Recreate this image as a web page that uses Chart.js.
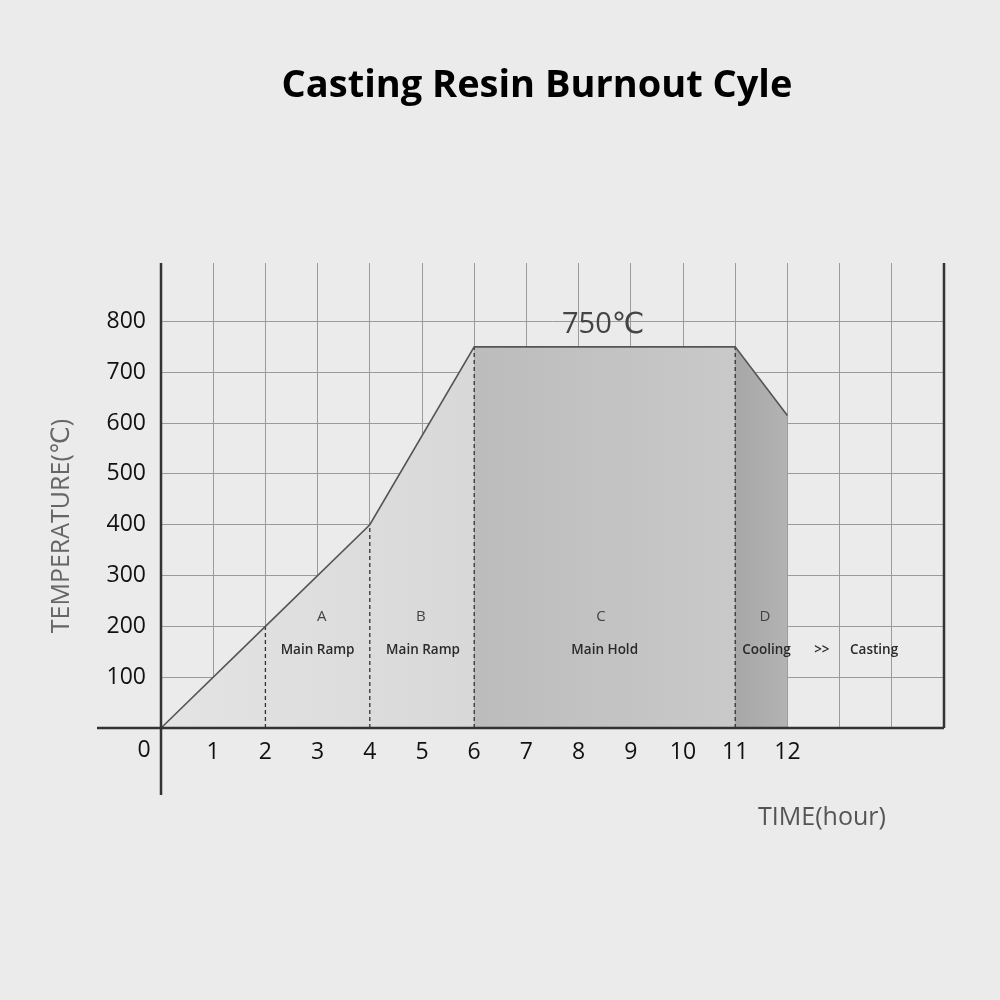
<!DOCTYPE html>
<html>
<head>
<meta charset="utf-8">
<script src="https://cdn.jsdelivr.net/npm/chart.js@4.4.1/dist/chart.umd.min.js"></script>
<style>
  html, body { margin: 0; padding: 0; background: #ebebeb; }
  #wrap { width: 1000px; height: 1000px; }
</style>
</head>
<body>
<div id="wrap"><canvas id="burnout"></canvas></div>
<script>
// burnout cycle data
const times = [0, 2, 4, 6, 11, 12];
const temps = [0, 200, 400, 750, 750, 615];
const yTicks = [100, 200, 300, 400, 500, 600, 700, 800];
const xTicks = [0, 1, 2, 3, 4, 5, 6, 7, 8, 9, 10, 11, 12, 13, 14, 15];
const xLabels = ["1", "2", "3", "4", "5", "6", "7", "8", "9", "10", "11", "12"];
const dashTimes = [2, 4, 6, 11];
const stageLetters = [["A", 3.08], ["B", 4.98], ["C", 8.43], ["D", 11.57]];
const stageNames = [["Main Ramp", 3.0], ["Main Ramp", 5.02], ["Main Hold", 8.5], ["Cooling", 11.6], [">>", 12.66], ["Casting", 13.66]];

const FONT = "'Open Sans', 'DejaVu Sans', sans-serif";
const pts = times.map((t, i) => ({ x: t, y: temps[i] }));

function tempAt(t) {
  return temps[times.indexOf(t)];
}

// gradient fill between two x values
function bandFill(from, to, c0, c1) {
  return (context) => {
    const chart = context.chart;
    if (!chart.chartArea) return c0;
    const xs = chart.scales.x;
    const g = chart.ctx.createLinearGradient(xs.getPixelForValue(from), 0, xs.getPixelForValue(to), 0);
    g.addColorStop(0, c0);
    g.addColorStop(1, c1);
    return g;
  };
}

function region(a, b, c0, c1) {
  return {
    data: pts.slice(times.indexOf(a), times.indexOf(b) + 1),
    borderWidth: 0,
    pointRadius: 0,
    fill: "origin",
    backgroundColor: bandFill(a, b, c0, c1),
    order: 3
  };
}

const datasets = [
  region(0, 6, "#e4e4e4", "#d8d8d8"),
  region(6, 11, "#bcbcbc", "#c9c9c9"),
  region(11, 12, "#a7a7a7", "#b3b3b3"),
  {
    data: pts,
    borderColor: "#555",
    borderWidth: 1.6,
    pointRadius: 0,
    fill: false,
    order: 1
  }
];

dashTimes.forEach(t => {
  datasets.push({
    data: [{ x: t, y: 0 }, { x: t, y: tempAt(t) }],
    borderColor: "#333",
    borderWidth: 1.3,
    borderDash: [4, 3],
    pointRadius: 0,
    fill: false,
    order: 2
  });
});

const extras = {
  id: "extras",
  afterDatasetsDraw(chart) {
    const { ctx, scales: { x, y }, chartArea } = chart;
    const x0 = x.getPixelForValue(0);
    const y0 = y.getPixelForValue(0);
    ctx.save();
    // axes crossing at origin
    ctx.strokeStyle = "#333";
    ctx.lineWidth = 2.5;
    ctx.beginPath();
    ctx.moveTo(97, y0);
    ctx.lineTo(chartArea.right, y0);
    ctx.moveTo(x0, chartArea.top);
    ctx.lineTo(x0, 795);
    ctx.moveTo(chartArea.right, chartArea.top);
    ctx.lineTo(chartArea.right, y0);
    ctx.stroke();

    ctx.textAlign = "center";
    ctx.textBaseline = "middle";
    ctx.fillStyle = "#000";
    ctx.font = "bold 38px " + FONT;
    ctx.fillText("Casting Resin Burnout Cyle", 537, 86);

    ctx.fillStyle = "#111";
    ctx.font = "23px " + FONT;
    ctx.fillText("0", x0 - 17, 750);

    ctx.fillStyle = "#444";
    ctx.font = "29px " + FONT;
    ctx.fillText("750\u2103", x.getPixelForValue(8.47), 325);

    ctx.font = "15px " + FONT;
    stageLetters.forEach(([s, t]) => ctx.fillText(s, x.getPixelForValue(t), y.getPixelForValue(218)));
    ctx.fillStyle = "#2a2a2a";
    ctx.font = "600 13.5px " + FONT;
    stageNames.forEach(([s, t]) => ctx.fillText(s, x.getPixelForValue(t), y.getPixelForValue(153)));

    ctx.fillStyle = "#555";
    ctx.font = "25px " + FONT;
    ctx.fillText("TIME(hour)", 822, 818);

    ctx.translate(62, 526);
    ctx.rotate(-Math.PI / 2);
    ctx.fillStyle = "#666";
    ctx.font = "25px " + FONT;
    ctx.fillText("TEMPERATURE(\u2103)", 0, 0);
    ctx.restore();
  }
};

new Chart(document.getElementById("burnout"), {
  type: "line",
  data: { datasets },
  options: {
    responsive: true,
    maintainAspectRatio: false,
    animation: false,
    layout: { padding: { left: 0, right: 56, top: 263, bottom: 0 } },
    plugins: {
      legend: { display: false },
      tooltip: { enabled: false },
      title: { display: false }
    },
    scales: {
      x: {
        type: "linear",
        min: 0,
        max: 15,
        afterBuildTicks: s => { s.ticks = xTicks.map(v => ({ value: v })); },
        afterFit: s => { s.height = 272; },
        border: { display: false },
        grid: { color: c => (c.tick && c.tick.value > 0 && c.tick.value < 15 ? "#9a9a9a" : "transparent"), lineWidth: 1, drawTicks: false },
        ticks: {
          autoSkip: false,
          maxRotation: 0,
          padding: 11,
          color: "#111",
          font: { family: FONT, size: 23 },
          callback: v => xLabels[v - 1] || ""
        }
      },
      y: {
        type: "linear",
        min: 0,
        max: 915,
        afterBuildTicks: s => { s.ticks = yTicks.map(v => ({ value: v })); },
        afterFit: s => { s.width = 161; },
        border: { display: false },
        grid: { color: "#9a9a9a", lineWidth: 1, drawTicks: false },
        ticks: {
          padding: 15,
          color: "#111",
          font: { family: FONT, size: 23 }
        }
      }
    }
  },
  plugins: [extras]
});
</script>
</body>
</html>
